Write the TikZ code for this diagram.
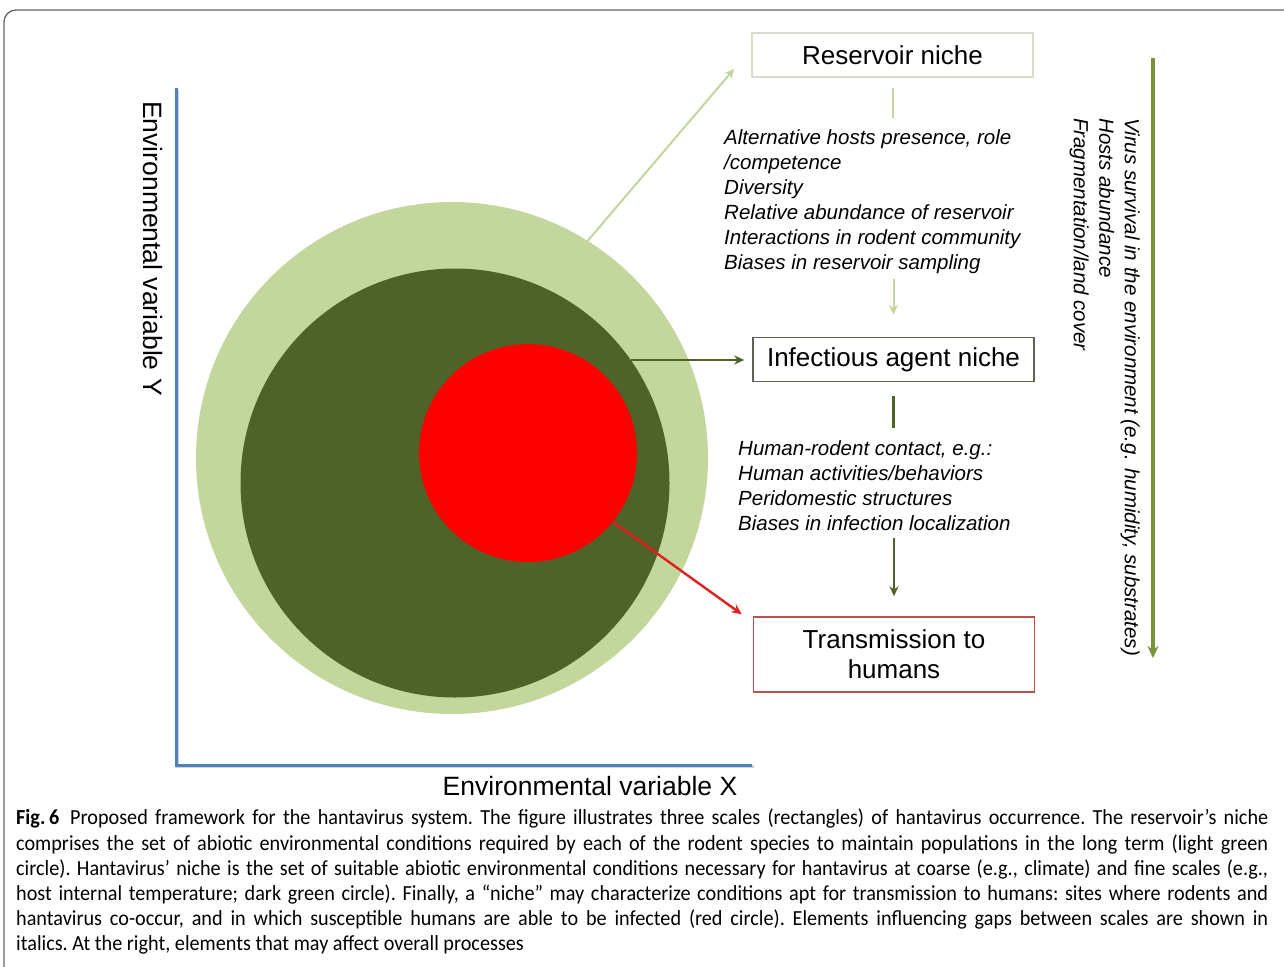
\documentclass[tikz,border=0pt]{standalone}
\usepackage{fontspec}
\setmainfont{Liberation Sans}
\newfontfamily\capfont[FakeStretch=0.94]{Carlito}
\usetikzlibrary{arrows.meta}
\definecolor{lightg}{HTML}{C3D69B}
\definecolor{darkg}{HTML}{4F6228}
\definecolor{redc}{HTML}{FF0000}
\definecolor{axisb}{HTML}{4F81BD}
\definecolor{rightg}{HTML}{77933C}
\definecolor{resb}{HTML}{D9DCCB}
\definecolor{infb}{HTML}{5F6452}
\definecolor{trab}{HTML}{C0504D}
\definecolor{redarr}{HTML}{E02020}
\definecolor{framec}{HTML}{666666}
\newcommand{\capline}[1]{\hbox to 1252pt{#1}}
\begin{document}
\begin{tikzpicture}[x=1pt,y=-1pt,
  box/.style={draw, line width=1.5pt, fill=white, minimum width=281pt, minimum height=44pt, inner sep=2pt, font=\fontsize{26}{30}\selectfont},
  listtxt/.style={align=left, inner sep=0pt, font=\itshape\fontsize{20.5}{25}\selectfont},
  axlabel/.style={inner sep=0pt, font=\fontsize{26.5}{30}\selectfont},
  blob/.style={circle, draw=none, inner sep=0pt, outer sep=0pt},
  tip/.style={-{Stealth[length=10pt,width=9pt]}},
  lline/.style={draw=lightg, line width=2pt},
  dline/.style={draw=darkg, line width=2.6pt}
]
\useasboundingbox (0,0) rectangle (1284,966);
\fill[white] (0,0) rectangle (1284,966);
% frame
\draw[framec, line width=1.3pt, rounded corners=12pt] (1300,10) -- (4,10) -- (4,990);

% axes
\coordinate (ytop) at (176,88);
\coordinate (origin) at (176,765);
\coordinate (xend) at (752,765);
\draw[black!18, line width=3pt] ([xshift=1.5pt,yshift=-1.5pt]ytop) -- ([xshift=1.5pt,yshift=-1.5pt]origin) -- ([xshift=1.5pt,yshift=-1.5pt]xend);
\draw[axisb, line width=3pt] (ytop) -- (origin) -- (xend);

% circles
\node[blob, fill=lightg, minimum size=512pt] (light) at (452,458) {};
\node[blob, fill=darkg, minimum size=429pt] (dark) at (455,483) {};
\node[blob, fill=redc, minimum size=218pt] (red) at (528,453) {};

% boxes
\node[box, draw=resb] (res) at (892.5,55) {Reservoir niche};
\node[box, draw=infb] (infect) at (893.5,359.5) {Infectious agent niche};
\node[box, draw=trab, minimum height=75pt, align=center] (trans) at (894,654.5) {Transmission to\\humans};

% italic lists
\node[listtxt, anchor=north west] (l1) at (724,129) {Alternative hosts presence, role\\/competence\\Diversity\\Relative abundance of reservoir\\Interactions in rodent community\\Biases in reservoir sampling};
\node[listtxt, anchor=north west] (l2) at (738,440) {Human-rodent contact, e.g.:\\Human activities/behaviors\\Peridomestic structures\\Biases in infection localization};

% connectors in the right column
\draw[lline, shorten >=11pt] ([yshift=-10pt]res.south) -- (res.south |- l1.north);
\draw[lline, tip] ([yshift=-5pt]infect.north |- l1.south) -- ([yshift=22pt]infect.north);
\draw[dline, shorten >=12pt] ([yshift=-14pt]infect.south) -- (infect.south |- l2.north);
\draw[dline, tip] ([yshift=-8pt]trans.north |- l2.south) -- ([yshift=20pt]trans.north);

% arrows from circles
\draw[lline, tip] (light.58) -- ([xshift=-17pt,yshift=9pt]res.south west);
\draw[dline, tip, shorten >=8pt] (dark.35) -- (dark.35 -| infect.west);
\draw[draw=redarr, line width=2.4pt, tip] (red.-39) -- ([xshift=-11pt,yshift=2pt]trans.north west);

% right column: overall elements
\coordinate (rtop) at (1153,58);
\coordinate (rbot) at (1153,658);
\draw[draw=rightg, line width=3.2pt, -{Stealth[length=12pt,width=11pt]}] (rtop) -- (rbot);
\node[listtxt, rotate=-90, anchor=north west, font=\itshape\fontsize{20.5}{25.5}\selectfont] (rt) at (1140,118) {Virus survival in the environment (e.g. humidity, substrates)\\Hosts abundance\\Fragmentation/land cover};

% axis labels
\node[axlabel, rotate=-90, anchor=north west] (ylab) at (163,101) {Environmental variable Y};
\node[axlabel, anchor=base] (xlab) at (590,795) {Environmental variable X};

% caption
\node[anchor=north west, align=left, inner sep=0pt, font=\capfont\fontsize{21.5}{25.2}\selectfont\frenchspacing] (cap) at (16,809) {%
\capline{\textbf{Fig.\,6}\hspace{11pt}Proposed framework for the hantavirus system. The figure illustrates three scales (rectangles) of hantavirus occurrence. The reservoir’s niche}\\
\capline{comprises the set of abiotic environmental conditions required by each of the rodent species to maintain populations in the long term (light green}\\
\capline{circle). Hantavirus’ niche is the set of suitable abiotic environmental conditions necessary for hantavirus at coarse (e.g., climate) and fine scales (e.g.,}\\
\capline{host internal temperature; dark green circle). Finally, a “niche” may characterize conditions apt for transmission to humans: sites where rodents and}\\
\capline{hantavirus co-occur, and in which susceptible humans are able to be infected (red circle). Elements influencing gaps between scales are shown in}\\
italics. At the right, elements that may affect overall processes};
\end{tikzpicture}
\end{document}
